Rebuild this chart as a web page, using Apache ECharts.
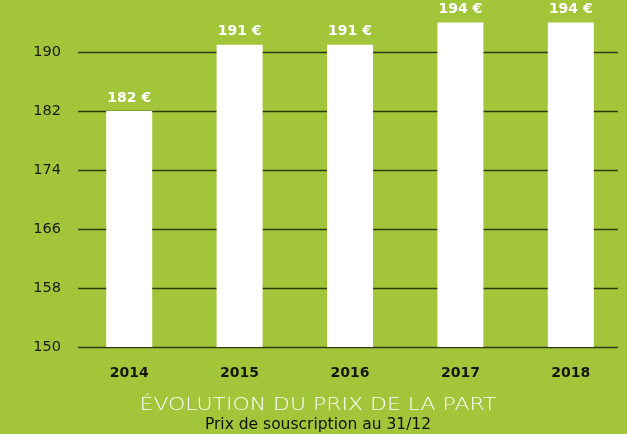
<!DOCTYPE html>
<html>
<head>
<meta charset="utf-8">
<script src="https://cdn.jsdelivr.net/npm/echarts@6/dist/echarts.min.js"></script>
<style>
  html, body { margin: 0; padding: 0; background: #a3c53a; }
  #chart { width: 627px; height: 434px; }
</style>
</head>
<body>
<div id="chart"></div>
<script>
// données
const years = ['2014', '2015', '2016', '2017', '2018']
const prices = [182, 191, 191, 194, 194]
const yTicks = [150, 158, 166, 174, 182, 190]

const myChart = echarts.init(document.getElementById('chart'))
const font = 'DejaVu Sans'

const option = {
  backgroundColor: '#a3c53a',
  animation: false,
  grid: [
    // grille des lignes horizontales (150 -> 190)
    { left: 78, right: 9, top: 52, bottom: 87 },
    // grille des barres, même échelle mais plus haute
    { left: 74, right: 1, top: 0, bottom: 87 }
  ],
  xAxis: [
    { gridIndex: 0, type: 'category', data: years, show: false },
    {
      gridIndex: 1,
      type: 'category',
      data: years,
      axisLine: { show: false },
      axisTick: { show: false },
      axisLabel: {
        margin: 19,
        color: '#151515',
        fontFamily: font,
        fontWeight: 'bold',
        fontSize: 14
      }
    }
  ],
  yAxis: [
    {
      gridIndex: 0,
      type: 'value',
      min: yTicks[0],
      max: yTicks[yTicks.length - 1],
      interval: 8,
      axisLine: { show: false },
      axisTick: { show: false },
      axisLabel: {
        margin: 17,
        color: '#1a1a1a',
        fontFamily: font,
        fontSize: 14.5
      },
      splitLine: { lineStyle: { color: '#2f3a12', width: 1.3 } }
    },
    {
      gridIndex: 1,
      type: 'value',
      min: yTicks[0],
      // 40 unités = 295 px, la grille fait 347 px
      max: yTicks[0] + 347 / 7.375,
      show: false,
      splitLine: { show: false }
    }
  ],
  series: [
    {
      type: 'bar',
      xAxisIndex: 1,
      yAxisIndex: 1,
      data: prices,
      barWidth: 46,
      itemStyle: { color: '#ffffff' },
      label: {
        show: true,
        position: 'top',
        distance: 6,
        formatter: (p) => p.value + ' €',
        color: '#ffffff',
        fontFamily: font,
        fontWeight: 'bold',
        fontSize: 14
      }
    }
  ],
  graphic: [
    {
      type: 'text',
      x: 318,
      y: 396,
      scaleX: 1.22,
      style: {
        text: 'ÉVOLUTION DU PRIX DE LA PART',
        fill: '#ffffff',
        font: '200 18px "DejaVu Sans"',
        textAlign: 'center',
        textVerticalAlign: 'top'
      }
    },
    {
      type: 'text',
      x: 318,
      y: 417,
      style: {
        text: 'Prix de souscription au 31/12',
        fill: '#111111',
        font: '15.5px "DejaVu Sans"',
        textAlign: 'center',
        textVerticalAlign: 'top'
      }
    }
  ]
}

myChart.setOption(option)
</script>
</body>
</html>
